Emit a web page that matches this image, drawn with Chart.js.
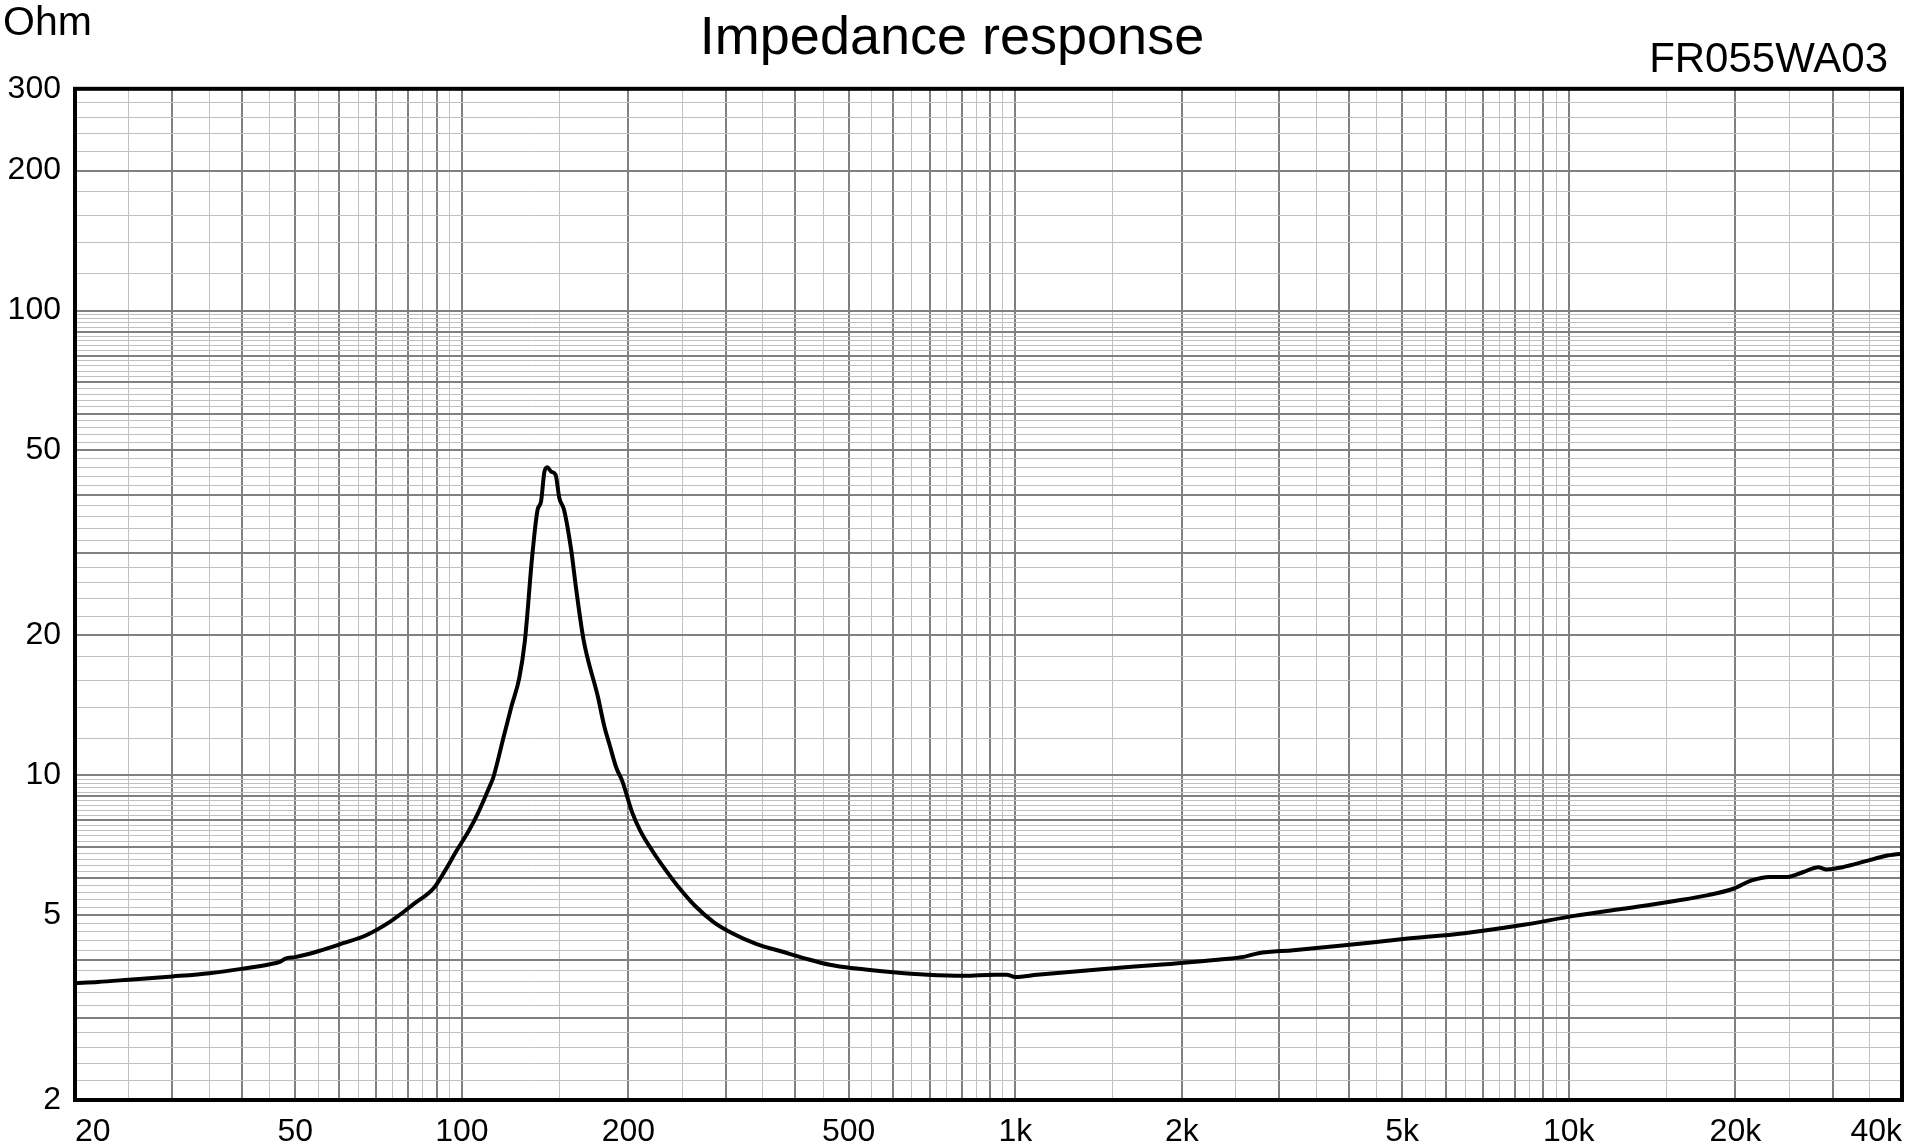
<!DOCTYPE html>
<html>
<head>
<meta charset="utf-8">
<title>Impedance response</title>
<script src="https://cdn.jsdelivr.net/npm/chart.js@4.4.1/dist/chart.umd.min.js"></script>
<style>
  html, body { margin: 0; padding: 0; background: #fff; }
  #wrap { width: 1915px; height: 1148px; }
</style>
</head>
<body>
<div id="wrap"><canvas id="chart" width="1915" height="1148"></canvas></div>
<script>
const titleText = 'Impedance response';
const unitText = 'Ohm';
const modelText = 'FR055WA03';

// impedance curve
const freqHz = [
  20, 22, 25, 30, 35, 40, 45, 47, 48, 50,
  55, 61, 67, 74, 82, 89, 93, 98, 103, 107,
  112, 114, 119, 123, 127, 130, 134, 137, 139, 141,
  142.7, 145, 147.7, 150, 153, 157.6, 161, 166, 176, 181,
  185, 190, 195, 203, 210, 221, 233, 245, 264, 285,
  308, 341, 377, 418, 462, 511, 595, 694, 808, 917,
  965, 1000, 1095, 1412, 1819, 2345, 2600, 2750, 3180, 3896,
  5022, 6474, 8342, 10222, 12522, 15340, 17864, 19766, 21340, 23032,
  24852, 26550, 28212, 29236, 31232, 34560, 37300, 40000
];
const impedanceOhm = [
  3.57, 3.59, 3.63, 3.69, 3.75, 3.83, 3.92, 3.97, 4.03, 4.06,
  4.18, 4.35, 4.52, 4.83, 5.29, 5.72, 6.2, 6.9, 7.6, 8.3,
  9.4, 9.9, 12.1, 14.1, 16.2, 19.5, 29.6, 37.2, 38.8, 45,
  46, 45, 44.3, 39.5, 37.2, 30.5, 25, 19.5, 14.8, 12.7,
  11.6, 10.4, 9.7, 8.33, 7.6, 6.87, 6.27, 5.79, 5.23, 4.83,
  4.57, 4.33, 4.18, 4.03, 3.91, 3.84, 3.77, 3.72, 3.70, 3.72,
  3.72, 3.68, 3.72, 3.82, 3.91, 4.01, 4.07, 4.14, 4.20, 4.30,
  4.44, 4.57, 4.77, 4.98, 5.16, 5.35, 5.52, 5.69, 5.93, 6.04,
  6.04, 6.19, 6.34, 6.27, 6.34, 6.54, 6.70, 6.78
];

const xTickLabels = [20, 50, 100, 200, 500, 1000, 2000, 5000, 10000, 20000, 40000];
const yTickLabels = [2, 5, 10, 20, 50, 100, 200, 300];

const FONT = '"Liberation Sans", Arial, sans-serif';
const DARK = '#808080';
const LIGHT = '#c0c0c0';

// vertical grid: every whole step dark, half steps light
function freqGrid(min, max) {
  const ticks = [];
  for (let mult = 10; mult <= 10000; mult *= 10) {
    for (let h = 2; h < 20; h++) {
      const v = h * mult / 2;
      if (v >= min && v <= max) ticks.push({ value: v, dark: h % 2 === 0 });
    }
  }
  return ticks;
}

// horizontal grid: whole steps dark, 0.2 steps light
function ohmGrid(min, max) {
  const ticks = [];
  for (let mult = 1; mult <= 100; mult *= 10) {
    for (let k = 5; k < 50; k++) {
      const v = k * 2 * mult / 10;
      if (v >= min - 1e-9 && v <= max + 1e-9) ticks.push({ value: v, dark: k % 5 === 0 });
    }
  }
  return ticks;
}

const hasLabel = (list, v) => list.some((l) => Math.abs(l - v) < 1e-6);
const fmtFreq = (v) => (v >= 1000 ? (v / 1000) + 'k' : String(v));

const gridStyle = {
  color: (ctx) => (ctx.tick && ctx.tick.dark ? DARK : LIGHT),
  lineWidth: (ctx) => (ctx.tick && ctx.tick.dark ? 2 : 1),
  drawTicks: false
};

const framePlugin = {
  id: 'frame',
  afterDatasetsDraw(chart) {
    const { ctx, chartArea: a } = chart;
    ctx.save();
    ctx.strokeStyle = '#000';
    ctx.lineWidth = 4;
    ctx.strokeRect(a.left, a.top, a.right - a.left, a.bottom - a.top);
    ctx.restore();
  }
};

const cornerText = {
  id: 'cornerText',
  afterDraw(chart) {
    const ctx = chart.ctx;
    const a = chart.chartArea;
    ctx.save();
    ctx.fillStyle = '#000';
    ctx.textBaseline = 'alphabetic';
    ctx.font = '41px ' + FONT;
    ctx.textAlign = 'left';
    ctx.fillText(unitText, 3, a.top - 54);
    ctx.font = '42px ' + FONT;
    ctx.textAlign = 'right';
    ctx.fillText(modelText, a.right - 14, a.top - 17);
    ctx.restore();
  }
};

new Chart(document.getElementById('chart'), {
  type: 'line',
  data: {
    datasets: [{
      label: 'Impedance',
      data: freqHz.map((f, i) => ({ x: f, y: impedanceOhm[i] })),
      borderColor: '#000',
      borderWidth: 4,
      pointRadius: 0,
      cubicInterpolationMode: 'monotone',
      fill: false
    }]
  },
  options: {
    responsive: false,
    animation: false,
    devicePixelRatio: 1,
    layout: { padding: { left: 0, right: 11, top: 0, bottom: 0 } },
    plugins: {
      legend: { display: false },
      tooltip: { enabled: false },
      title: {
        display: true,
        text: titleText,
        color: '#000',
        font: { family: FONT, size: 54, weight: 'normal' },
        padding: { top: 7, bottom: 17 }
      }
    },
    scales: {
      x: {
        type: 'logarithmic',
        min: 20,
        max: 40000,
        afterBuildTicks: (s) => { s.ticks = freqGrid(20, 40000); },
        afterFit: (s) => { s.height = 48; },
        grid: gridStyle,
        border: { display: false },
        ticks: {
          autoSkip: false,
          maxRotation: 0,
          minRotation: 0,
          align: 'inner',
          padding: 13,
          color: '#000',
          font: { family: FONT, size: 32 },
          callback: (v) => (hasLabel(xTickLabels, v) ? fmtFreq(v) : '')
        }
      },
      y: {
        type: 'logarithmic',
        min: 2,
        max: 300,
        afterBuildTicks: (s) => { s.ticks = ohmGrid(2, 300); },
        afterFit: (s) => { s.width = 75; },
        grid: gridStyle,
        border: { display: false },
        ticks: {
          autoSkip: false,
          padding: 14,
          color: '#000',
          font: { family: FONT, size: 32 },
          callback: (v) => (hasLabel(yTickLabels, v) ? String(Math.round(v)) : '')
        }
      }
    }
  },
  plugins: [framePlugin, cornerText]
});
</script>
</body>
</html>
